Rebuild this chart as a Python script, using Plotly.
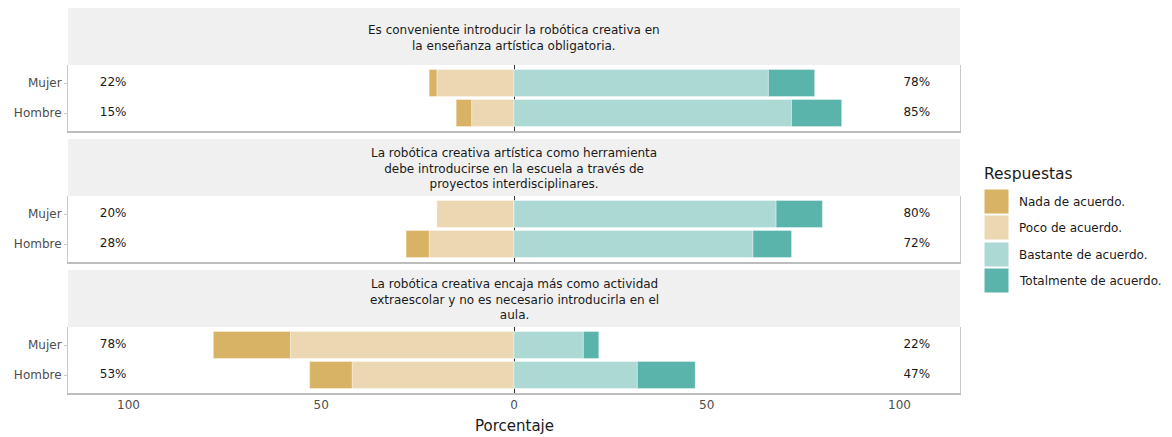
import plotly.graph_objects as go
from plotly.subplots import make_subplots

# data
preguntas = [
    "Es conveniente introducir la robótica creativa en<br>la enseñanza artística obligatoria.",
    "La robótica creativa artística como herramienta<br>debe introducirse en la escuela a través de<br>proyectos interdisciplinares.",
    "La robótica creativa encaja más como actividad<br>extraescolar y no es necesario introducirla en el<br>aula.",
]
grupos = ["Mujer", "Hombre"]
respuestas = ["Nada de acuerdo.", "Poco de acuerdo.", "Bastante de acuerdo.", "Totalmente de acuerdo."]
colores = ["#D8B365", "#EBD8B2", "#ADD9D5", "#5AB4AC"]

# one list per panel, order: Mujer, Hombre
nada = [[2, 4], [0, 6], [20, 11]]
poco = [[20, 11], [20, 22], [58, 42]]
bastante = [[66, 72], [68, 62], [18, 32]]
totalmente = [[12, 13], [12, 10], [4, 15]]

# the page body has an 8px margin, so the figure is 8px smaller and positions are shifted
OFF = 8
W, H = 1172 - OFF, 437 - OFF
px_x = lambda p: (p - OFF) / W
px_y = lambda p: 1 - (p - OFF) / H

font = "DejaVu Sans, Liberation Sans, Arial, sans-serif"
panel_px = [(65, 131), (196, 262), (327, 393)]
strip_px = [(8, 65), (139, 196), (270, 327)]
x0, x1 = 68, 960

fig = make_subplots(rows=3, cols=1)

for i in range(3):
    r = i + 1
    neg = [("Poco de acuerdo.", poco[i], colores[1]), ("Nada de acuerdo.", nada[i], colores[0])]
    pos = [("Bastante de acuerdo.", bastante[i], colores[2]), ("Totalmente de acuerdo.", totalmente[i], colores[3])]
    for name, vals, col in neg:
        fig.add_trace(go.Bar(y=grupos, x=[-v for v in vals], orientation="h", name=name,
                             marker=dict(color=col, line=dict(color="rgba(255,255,255,0.6)", width=0.6)),
                             showlegend=False), row=r, col=1)
    for name, vals, col in pos:
        fig.add_trace(go.Bar(y=grupos, x=vals, orientation="h", name=name,
                             marker=dict(color=col, line=dict(color="rgba(255,255,255,0.6)", width=0.6)),
                             showlegend=False), row=r, col=1)
    izq = [nada[i][k] + poco[i][k] for k in range(2)]
    der = [bastante[i][k] + totalmente[i][k] for k in range(2)]
    fig.add_trace(go.Scatter(y=grupos, x=[-104] * 2, mode="text", text=[f"{v}%" for v in izq],
                             textfont=dict(family=font, size=12, color="#1A1A1A"), showlegend=False,
                             hoverinfo="skip"), row=r, col=1)
    fig.add_trace(go.Scatter(y=grupos, x=[104.5] * 2, mode="text", text=[f"{v}%" for v in der],
                             textfont=dict(family=font, size=12, color="#1A1A1A"), showlegend=False,
                             hoverinfo="skip"), row=r, col=1)

    yb, yt = panel_px[i]
    fig.update_xaxes(row=r, col=1, domain=[px_x(x0), px_x(x1)], range=[-115.7, 115.7],
                     tickvals=[-100, -50, 0, 50, 100], ticktext=["100", "50", "0", "50", "100"],
                     showticklabels=(i == 2), showgrid=False,
                     zeroline=True, zerolinecolor="#333333", zerolinewidth=1,
                     showline=True, linecolor="#BDBDBD", linewidth=2,
                     tickfont=dict(family=font, size=12, color="#4D4D4D"), fixedrange=True)
    fig.update_yaxes(row=r, col=1, domain=[px_y(yt), px_y(yb)], range=[-0.6, 1.6],
                     categoryorder="array", categoryarray=["Hombre", "Mujer"],
                     showgrid=False, zeroline=False,
                     showline=True, linecolor="#C8C8C8", linewidth=1, mirror=True,
                     ticks="outside", ticklen=3, tickcolor="#C8C8C8",
                     tickfont=dict(family=font, size=12, color="#4D4D4D"), fixedrange=True)

    sb, st = strip_px[i]
    fig.add_shape(type="rect", xref="paper", yref="paper", x0=px_x(x0), x1=px_x(x1),
                  y0=px_y(st), y1=px_y(sb), fillcolor="#F0F0F0", line=dict(width=0), layer="below")
    fig.add_annotation(xref="paper", yref="paper", x=px_x(514), y=px_y((sb + st) / 2 + 1),
                       text=preguntas[i], showarrow=False, xanchor="center", yanchor="middle",
                       font=dict(family=font, size=12, color="#1A1A1A"))

# legend drawn by hand so keys match the original size
fig.add_annotation(xref="paper", yref="paper", x=px_x(982), y=px_y(174), text="Respuestas",
                   showarrow=False, xanchor="left", yanchor="middle",
                   font=dict(family=font, size=15.5, color="#1A1A1A"))
key_tops = [189, 215, 242, 268]
for k in range(4):
    t = key_tops[k]
    fig.add_shape(type="rect", xref="paper", yref="paper", x0=px_x(984), x1=px_x(1009),
                  y0=px_y(t + 25), y1=px_y(t), fillcolor=colores[k], line=dict(color="white", width=1))
    fig.add_annotation(xref="paper", yref="paper", x=px_x(1017), y=px_y(t + 12.5), text=respuestas[k],
                       showarrow=False, xanchor="left", yanchor="middle",
                       font=dict(family=font, size=12, color="#1A1A1A"))

fig.add_annotation(xref="paper", yref="paper", x=px_x(514), y=px_y(426), text="Porcentaje",
                   showarrow=False, xanchor="center", yanchor="middle",
                   font=dict(family=font, size=15, color="#1A1A1A"))

fig.update_layout(width=W, height=H, margin=dict(l=0, r=0, t=0, b=0),
                  barmode="relative", bargap=0.1, plot_bgcolor="white", paper_bgcolor="white",
                  showlegend=False, font=dict(family=font))

fig.write_html("out.html")
